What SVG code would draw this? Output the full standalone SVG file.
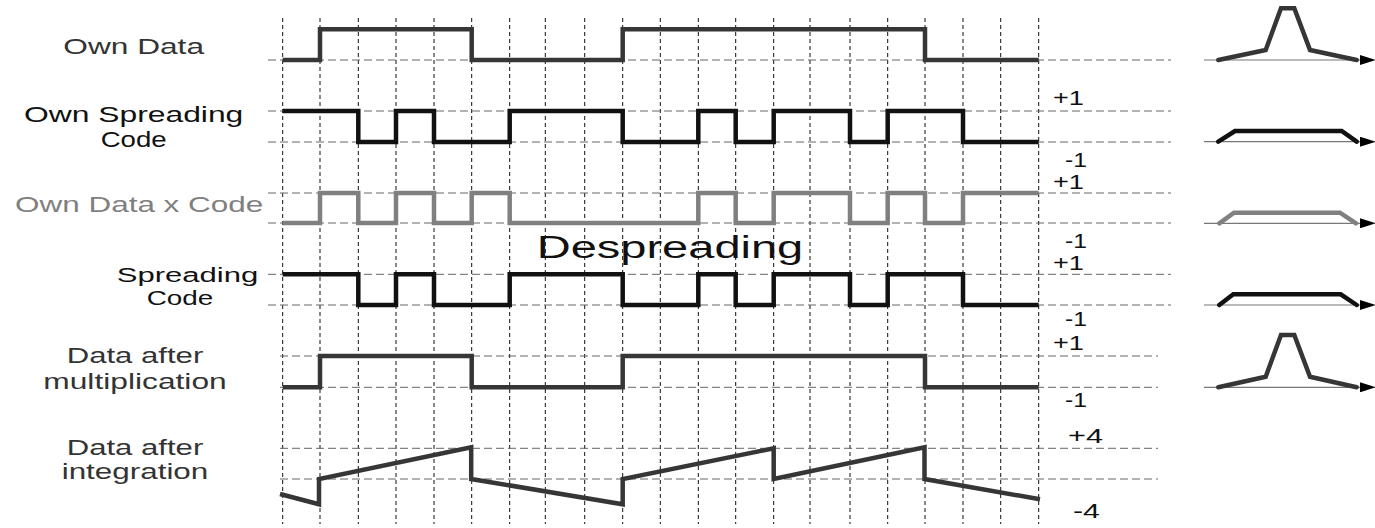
<svg xmlns="http://www.w3.org/2000/svg" width="1375" height="528" viewBox="0 0 1375 528">
<defs>
<style>
.bg{fill:#fff}
.vg{stroke:#111;stroke-width:1;stroke-dasharray:4 3;fill:none}
.hg{stroke:#666;stroke-width:1;stroke-dasharray:8 4;fill:none}
.sig{fill:none;stroke-width:4.5;stroke-linejoin:miter;stroke-linecap:butt}
.dk{stroke:#363636}
.bk{stroke:#111}
.gr{stroke:#808080}
.spec{fill:none;stroke-width:4.5;stroke-linejoin:miter;stroke-linecap:round}
.axis{stroke:#777;stroke-width:1.2;fill:none}
.lbl{font-family:"Liberation Sans",Arial,sans-serif;font-size:22px}
.val{font-family:"Liberation Sans",Arial,sans-serif;font-size:20px;fill:#111}
.tdk{fill:#333}
.tbk{fill:#111}
.tgr{fill:#808080}
</style>
<marker id="arr" markerUnits="userSpaceOnUse" markerWidth="16" markerHeight="10" refX="2" refY="5" orient="auto">
<path d="M0,0 L16,5 L0,10 Z" fill="#000"/>
</marker>
</defs>
<rect class="bg" x="0" y="0" width="1375" height="528"/>

<g id="grid">
<g id="vgrid" class="vg">
<line x1="282.7" y1="18" x2="282.7" y2="524"/>
<line x1="320" y1="18" x2="320" y2="524"/>
<line x1="358.3" y1="18" x2="358.3" y2="524"/>
<line x1="396" y1="18" x2="396" y2="524"/>
<line x1="434" y1="18" x2="434" y2="524"/>
<line x1="471.7" y1="18" x2="471.7" y2="524"/>
<line x1="509.7" y1="18" x2="509.7" y2="524"/>
<line x1="545.3" y1="18" x2="545.3" y2="524"/>
<line x1="584.7" y1="18" x2="584.7" y2="524"/>
<line x1="622.7" y1="18" x2="622.7" y2="524"/>
<line x1="660.3" y1="18" x2="660.3" y2="524"/>
<line x1="698.3" y1="18" x2="698.3" y2="524"/>
<line x1="735.7" y1="18" x2="735.7" y2="524"/>
<line x1="773.7" y1="18" x2="773.7" y2="524"/>
<line x1="810" y1="18" x2="810" y2="524"/>
<line x1="850" y1="18" x2="850" y2="524"/>
<line x1="887.7" y1="18" x2="887.7" y2="524"/>
<line x1="925" y1="18" x2="925" y2="524"/>
<line x1="963" y1="18" x2="963" y2="524"/>
<line x1="1000.7" y1="18" x2="1000.7" y2="524"/>
<line x1="1038.7" y1="18" x2="1038.7" y2="524"/>
</g>
<g id="hgrid" class="hg">
<line x1="268" y1="60" x2="1171" y2="60"/>
<line x1="268" y1="111" x2="1171" y2="111"/>
<line x1="268" y1="142" x2="1171" y2="142"/>
<line x1="268" y1="193" x2="1171" y2="193"/>
<line x1="268" y1="223" x2="1171" y2="223"/>
<line x1="268" y1="274.3" x2="1171" y2="274.3"/>
<line x1="268" y1="305" x2="1171" y2="305"/>
<line x1="280" y1="356" x2="1158" y2="356"/>
<line x1="280" y1="387.3" x2="1158" y2="387.3"/>
<line x1="280" y1="448.3" x2="1158" y2="448.3"/>
<line x1="280" y1="479" x2="1158" y2="479"/>
</g>
</g>

<g id="row-own-data">
<text class="lbl tdk" x="63.3" y="54" textLength="140.7" lengthAdjust="spacingAndGlyphs">Own Data</text>
<polyline class="sig dk" points="282.7,60 320,60 320,29.3 471.7,29.3 471.7,60 622.7,60 622.7,29.3 925,29.3 925,60 1038.7,60"/>
</g>

<g id="row-own-code">
<text class="lbl tbk" x="24" y="122" textLength="219.3" lengthAdjust="spacingAndGlyphs">Own Spreading</text>
<text class="lbl tbk" x="100.7" y="146.7" textLength="66" lengthAdjust="spacingAndGlyphs">Code</text>
<polyline class="sig bk" points="282.7,111 358.3,111 358.3,142 396,142 396,111 434,111 434,142 509.7,142 509.7,111 622.7,111 622.7,142 698.3,142 698.3,111 735.7,111 735.7,142 773.7,142 773.7,111 850,111 850,142 887.7,142 887.7,111 963,111 963,142 1038.7,142"/>
<text class="val" x="1053" y="105" textLength="31" lengthAdjust="spacingAndGlyphs">+1</text>
<text class="val" x="1065" y="167" textLength="22" lengthAdjust="spacingAndGlyphs">-1</text>
</g>

<g id="row-product">
<text class="lbl tgr" x="15" y="211.7" textLength="248.3" lengthAdjust="spacingAndGlyphs">Own Data x Code</text>
<polyline class="sig gr" points="282.7,223 320,223 320,193 358.3,193 358.3,223 396,223 396,193 434,193 434,223 471.7,223 471.7,193 509.7,193 509.7,223 698.3,223 698.3,193 735.7,193 735.7,223 773.7,223 773.7,193 850,193 850,223 887.7,223 887.7,193 925,193 925,223 963,223 963,193 1038.7,193"/>
<text class="val" x="1053" y="189" textLength="31" lengthAdjust="spacingAndGlyphs">+1</text>
<text class="val" x="1065" y="248" textLength="22" lengthAdjust="spacingAndGlyphs">-1</text>
</g>

<g id="title">
<text class="lbl tbk" x="536.7" y="258.3" style="font-size:31px" textLength="266.6" lengthAdjust="spacingAndGlyphs">Despreading</text>
</g>

<g id="row-code">
<text class="lbl tbk" x="116.7" y="281.5" style="font-size:20px" textLength="141.6" lengthAdjust="spacingAndGlyphs">Spreading</text>
<text class="lbl tbk" x="146.7" y="305" style="font-size:20px" textLength="66.6" lengthAdjust="spacingAndGlyphs">Code</text>
<polyline class="sig bk" points="282.7,274.3 358.3,274.3 358.3,305 396,305 396,274.3 434,274.3 434,305 509.7,305 509.7,274.3 622.7,274.3 622.7,305 698.3,305 698.3,274.3 735.7,274.3 735.7,305 773.7,305 773.7,274.3 850,274.3 850,305 887.7,305 887.7,274.3 963,274.3 963,305 1038.7,305"/>
<text class="val" x="1053" y="270" textLength="31" lengthAdjust="spacingAndGlyphs">+1</text>
<text class="val" x="1065" y="326" textLength="22" lengthAdjust="spacingAndGlyphs">-1</text>
</g>

<g id="row-mult">
<text class="lbl tdk" x="66.7" y="363.3" textLength="136.6" lengthAdjust="spacingAndGlyphs">Data after</text>
<text class="lbl tdk" x="43.3" y="388.5" textLength="183.4" lengthAdjust="spacingAndGlyphs">multiplication</text>
<polyline class="sig dk" points="282.7,387.3 320,387.3 320,356 471.7,356 471.7,387.3 622.7,387.3 622.7,356 925,356 925,387.3 1038.7,387.3"/>
<text class="val" x="1053" y="350" textLength="31" lengthAdjust="spacingAndGlyphs">+1</text>
<text class="val" x="1065" y="407" textLength="22" lengthAdjust="spacingAndGlyphs">-1</text>
</g>

<g id="row-integ">
<text class="lbl tdk" x="66.7" y="455" textLength="136.6" lengthAdjust="spacingAndGlyphs">Data after</text>
<text class="lbl tdk" x="61.7" y="479" textLength="146.6" lengthAdjust="spacingAndGlyphs">integration</text>
<polyline class="sig dk" points="280,494 319,504.3 319,479 471.2,447.3 471.2,479 622.7,504.3 622.7,479 773.7,448.3 773.7,479 924.5,447.3 924.5,479 1040,499.3"/>
<text class="val" x="1068" y="443" textLength="35" lengthAdjust="spacingAndGlyphs">+4</text>
<text class="val" x="1073" y="518" textLength="27" lengthAdjust="spacingAndGlyphs">-4</text>
</g>

<g id="spectra">
<g id="spec1">
<line class="axis" x1="1204" y1="60" x2="1362" y2="60" marker-end="url(#arr)"/>
<polyline class="spec dk" points="1218.3,60 1265.7,50 1281,8.3 1294.3,8.3 1310,50 1356.7,60"/>
</g>
<g id="spec2">
<line class="axis" x1="1204" y1="141.7" x2="1362" y2="141.7" marker-end="url(#arr)"/>
<polyline class="spec bk" points="1218.3,141.7 1235,131 1341.7,131 1356.7,141.7"/>
</g>
<g id="spec3">
<line class="axis" x1="1204" y1="223.3" x2="1362" y2="223.3" marker-end="url(#arr)"/>
<polyline class="spec gr" points="1219.3,223.3 1234,212.7 1340,212.7 1356,223.3"/>
</g>
<g id="spec4">
<line class="axis" x1="1204" y1="305" x2="1362" y2="305" marker-end="url(#arr)"/>
<polyline class="spec bk" points="1219.3,305 1233.3,294.3 1340.7,294.3 1356.7,305"/>
</g>
<g id="spec5">
<line class="axis" x1="1204" y1="387.3" x2="1362" y2="387.3" marker-end="url(#arr)"/>
<polyline class="spec dk" points="1218.3,387.3 1265.7,376.7 1281,335 1294.3,335 1310,376.7 1356.7,387.3"/>
</g>
</g>
</svg>
